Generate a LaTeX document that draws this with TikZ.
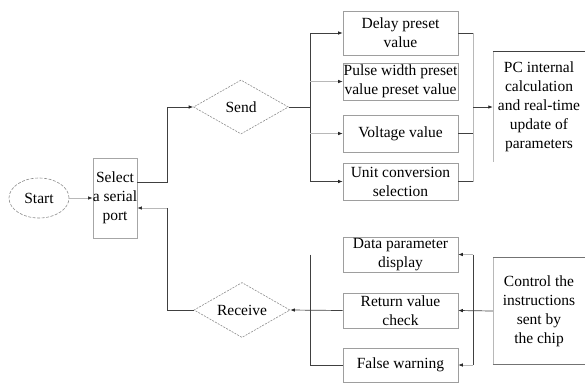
\documentclass[tikz,border=0pt]{standalone}
\usepackage{fontspec}
\setmainfont{Liberation Serif}
\usetikzlibrary{shapes.geometric,arrows.meta}
\begin{document}
\begin{tikzpicture}[x=1bp,y=-1bp,
  every node/.style={font=\fontsize{15.5bp}{19bp}\selectfont, align=center, inner sep=0pt},
  conn/.style={draw=black!75, line width=0.7bp},
  faint/.style={draw=black!28, line width=0.6bp},
  arr/.style={conn, -{Latex[length=4.5bp,width=3.5bp,color=black!85]}},
  farr/.style={faint, -{Latex[length=4.5bp,width=3.5bp,color=black!85]}},
  box/.style={rectangle, draw=black!38, line width=0.6bp, minimum width=115bp},
  dia/.style={diamond, draw=black!45, line width=0.6bp, dash pattern=on 2bp off 1.2bp, shape aspect=1.8},
  plain/.style={rectangle, minimum width=92bp}
]
\useasboundingbox (0,0) rectangle (585,383);

% left part
\node[ellipse, draw=black!45, line width=0.6bp, dash pattern=on 3bp off 1.5bp,
      minimum width=60bp, minimum height=40bp] (start) at (39,198) {Start};
\node[rectangle, draw=black!35, line width=0.6bp, minimum width=44bp, minimum height=80bp] (sel) at (115,198) {Select\\a serial\\port};
\node[dia, minimum width=95bp, minimum height=54bp] (send) at (241,107) {Send};
\node[dia, minimum width=96bp, minimum height=55bp] (recv) at (242,310) {Receive};

% send boxes
\node[box, minimum height=44bp] (delay) at (400.5,33) {Delay preset\\value};
\node[box, minimum height=37bp] (pulse) at (400.5,81.5) {Pulse width preset\\value preset value};
\node[box, minimum height=37bp] (volt) at (400.5,133.5) {Voltage value};
\node[box, minimum height=37bp] (unit) at (400.5,181.5) {Unit conversion\\selection};
\node[plain, minimum height=110bp] (pc) at (539,107) {PC internal\\calculation\\and real-time\\update of\\parameters};

% receive boxes
\node[box, minimum height=35bp] (data) at (400.5,254.5) {Data parameter\\display};
\node[box, minimum height=35bp] (ret) at (400.5,310.5) {Return value\\check};
\node[box, minimum height=34bp] (false) at (400.5,365) {False warning};
\node[plain, minimum height=106bp] (ctrl) at (539,311) {Control the\\instructions\\sent by\\the chip};

% box edges of the plain text blocks
\draw[conn] (pc.north west) -- (pc.north east);
\draw[faint] (pc.north west) -- (pc.south west);
\draw[conn, draw=black!55] (ctrl.north west) -- (ctrl.north east);
\draw[conn, draw=black!55] (ctrl.south west) -- (ctrl.south east);
\draw[faint] (ctrl.north west) -- (ctrl.south west);

% connectors left
\draw[farr] (start.east) -- (sel.west);
\coordinate (lb) at (167,107);
\draw[arr] ([yshift=16bp]sel.east) -| (lb) -- (send.west);
\coordinate (rb) at (167,208);
\draw[conn] (recv.west) -| (rb);
\draw[farr] (rb) -- (rb -| sel.east);

% send branch
\coordinate (sb) at (310,107);
\draw[conn] (send.east) -- (sb);
\draw[conn] (delay.west -| sb) -- (unit.west -| sb);
\draw[arr] (delay.west -| sb) -- (delay.west);
\draw[farr] (pulse.west -| sb) -- (pulse.west);
\draw[farr] (volt.west -| sb) -- (volt.west);
\draw[arr] (unit.west -| sb) -- (unit.west);

\coordinate (pb) at (473,107);
\draw[faint] (delay.east -| pb) -- (unit.east -| pb);
\draw[conn] (delay.east) -- (delay.east -| pb);
\draw[conn] (volt.east) -- (volt.east -| pb);
\draw[conn] (unit.east) -- (unit.east -| pb);
\draw[arr] (pb) -- (pc.west);

% receive branch
\coordinate (rl) at (310,311);
\draw[conn] (data.west -| rl) -- (false.west -| rl);
\draw[conn] (false.west -| rl) -- (false.west);
\draw[arr] (ret.west) -- (recv.east);

\coordinate (cb) at (473,311);
\draw[conn] (data.east -| cb) -- (false.east -| cb);
\draw[farr] (data.east -| cb) -- (data.east);
\draw[farr] (false.east -| cb) -- (false.east);
\draw[arr] (ctrl.west) -- (ret.east);
\end{tikzpicture}
\end{document}
